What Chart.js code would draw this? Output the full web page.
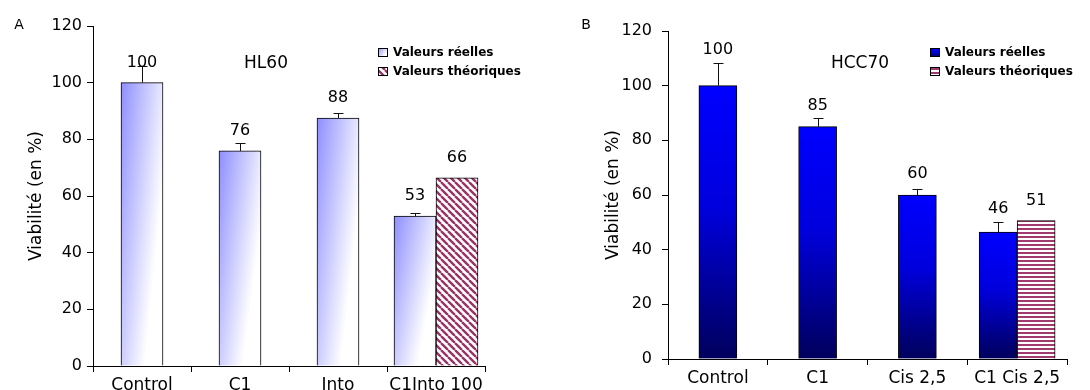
<!DOCTYPE html>
<html><head><meta charset="utf-8">
<script src="https://cdn.jsdelivr.net/npm/chart.js@4.4.1/dist/chart.umd.min.js"></script>
<style>
html,body{margin:0;padding:0;background:#fff;}
#wrap{position:relative;width:1090px;height:390px;overflow:hidden;background:#fff;}
canvas{position:absolute;top:0;}
#cA{left:0;} #cB{left:545px;}
</style></head><body>
<div id="wrap"><canvas id="cA" width="545" height="390"></canvas><canvas id="cB" width="545" height="390"></canvas></div>
<script>
// ---- data ----
const categoriesA = ['Control', 'C1', 'Into', 'C1Into 100'];
const reellesA = [100, 75.9, 87.5, 52.9];
const erreursA = [6, 2.8, 1.8, 1];
const theoriquesA = [null, null, null, 66.4];

const categoriesB = ['Control', 'C1', 'Cis 2,5', 'C1 Cis 2,5'];
const reellesB = [100, 85, 60, 46.4];
const erreursB = [8.3, 3, 2.3, 3.6];
const theoriquesB = [null, null, null, 50.6];

const yMin = 0, yMax = 120, yStep = 20;
const legendLabels = ['Valeurs réelles', 'Valeurs théoriques'];
const yTitle = 'Viabilité (en %)';

Chart.defaults.font.family = '"DejaVu Sans", sans-serif';
Chart.defaults.color = '#000';

// ---- fills ----
function fillGradA(ctx, x, y, w, h) {
  const a = 0.8 / w, b = 0.55 / Math.max(h, 1);
  const n = a * a + b * b;
  const g = ctx.createLinearGradient(x, y, x + a / n, y + b / n);
  g.addColorStop(0, '#8e8eff');
  g.addColorStop(1, '#ffffff');
  return g;
}
function fillGradB(ctx, x, y, w, h) {
  const g = ctx.createLinearGradient(0, y, 0, y + Math.max(h, 1));
  g.addColorStop(0, '#0000ff');
  g.addColorStop(0.45, '#0000dc');
  g.addColorStop(1, '#00005c');
  return g;
}
function diagPattern(target) {
  const s = 7, c = document.createElement('canvas');
  c.width = s; c.height = s;
  const g = c.getContext('2d');
  g.fillStyle = '#fff'; g.fillRect(0, 0, s, s);
  g.strokeStyle = '#993366'; g.lineWidth = 2.4;
  g.beginPath();
  for (let k = -1; k <= 1; k++) { g.moveTo(k * s, 0); g.lineTo(k * s + s, s); }
  g.stroke();
  return target.createPattern(c, 'repeat');
}
function hPattern(target) {
  const c = document.createElement('canvas');
  c.width = 4; c.height = 4;
  const g = c.getContext('2d');
  g.fillStyle = '#fff'; g.fillRect(0, 0, 4, 4);
  g.fillStyle = '#a03a6e'; g.fillRect(0, 0, 4, 2);
  return target.createPattern(c, 'repeat');
}

function makePanel(cfg) {
  const ctx0 = cfg.canvas.getContext('2d');
  const pat = cfg.pattern(ctx0);
  const fills = [cfg.realFill, () => pat];

  const plugin = {
    id: 'panel',
    beforeDatasetsDraw(chart) {
      const ctx = chart.ctx;
      chart.data.datasets.forEach((ds, di) => {
        const meta = chart.getDatasetMeta(di);
        meta.data.forEach((el, i) => {
          if (ds.data[i] == null) return;
          const p = el.getProps(['x', 'y', 'base', 'width'], true);
          try { el.options.backgroundColor = fills[di](ctx, p.x - p.width / 2, p.y, p.width, p.base - p.y); } catch (e) {}
        });
      });
    },
    afterDatasetsDraw(chart) {
      const ctx = chart.ctx, ys = chart.scales.y;
      const vals = chart.data.datasets[0].data;
      const meta = chart.getDatasetMeta(0);
      ctx.save();
      ctx.strokeStyle = '#111'; ctx.lineWidth = 1;
      meta.data.forEach((el, i) => {
        const e = cfg.errors[i];
        if (!e || vals[i] == null) return;
        const x = Math.round(el.x) + 0.5;
        const yt = Math.round(ys.getPixelForValue(vals[i] + e)) + 0.5;
        ctx.beginPath();
        ctx.moveTo(x, el.y); ctx.lineTo(x, yt);
        ctx.moveTo(x - 5, yt); ctx.lineTo(x + 5, yt);
        ctx.stroke();
      });
      ctx.font = '16px "DejaVu Sans"';
      ctx.fillStyle = '#000'; ctx.textAlign = 'center'; ctx.textBaseline = 'middle';
      chart.data.datasets.forEach((ds, di) => {
        const m = chart.getDatasetMeta(di);
        m.data.forEach((el, i) => {
          const v = ds.data[i];
          if (v == null) return;
          let y = el.y - 20;
          if (cfg.clearErrors && di === 0 && cfg.errors[i]) {
            y = Math.min(el.y - 21, ys.getPixelForValue(v + cfg.errors[i]) - 13);
          }
          ctx.fillText(String(Math.round(v)), el.x, y);
        });
      });
      ctx.restore();
    },
    afterDraw(chart) {
      const ctx = chart.ctx;
      ctx.save();
      ctx.fillStyle = '#000'; ctx.textBaseline = 'middle';
      ctx.textAlign = 'center';
      ctx.font = '14px "DejaVu Sans"';
      ctx.fillText(cfg.letter, cfg.letterX, 25);
      ctx.font = '17px "DejaVu Sans"';
      ctx.fillText(cfg.title, cfg.titleX, 64);
      // legend
      ctx.textAlign = 'left';
      ctx.font = 'bold 12px "DejaVu Sans"';
      chart.data.datasets.forEach((ds, k) => {
        const yc = [53, 72][k];
        const bx = cfg.legendX, by = yc - 5;
        ctx.fillStyle = fills[k](ctx, bx, by, 10, 9);
        ctx.fillRect(bx, by, 10, 9);
        ctx.strokeStyle = '#000'; ctx.lineWidth = 1;
        ctx.strokeRect(bx + 0.5, by + 0.5, 9, 8);
        ctx.fillStyle = '#000';
        ctx.fillText(ds.label, bx + 15, yc);
      });
      ctx.restore();
    }
  };

  return new Chart(cfg.canvas, {
    type: 'bar',
    data: {
      labels: cfg.categories,
      datasets: [
        { label: legendLabels[0], data: cfg.real, backgroundColor: () => cfg.realSolid,
          borderColor: '#000', borderWidth: 1 },
        { label: legendLabels[1], data: cfg.theo, backgroundColor: () => '#ffffff',
          borderColor: '#000', borderWidth: 1 }
      ]
    },
    options: {
      responsive: false,
      animation: false,
      devicePixelRatio: 1,
      events: [],
      barThickness: cfg.barW,
      skipNull: true,
      layout: { padding: { left: 0, right: cfg.padRight, top: cfg.padTop, bottom: 0 } },
      plugins: { legend: { display: false }, tooltip: { enabled: false } },
      scales: {
        x: {
          type: 'category',
          offset: true,
          grid: { offset: true, drawOnChartArea: false, drawTicks: true, tickLength: 6, color: '#000' },
          border: { display: true, color: '#000', width: 1 },
          ticks: { font: { size: 17 }, color: '#000', padding: 3, maxRotation: 0, autoSkip: false },
          afterFit: (s) => { s.height = cfg.xH; }
        },
        y: {
          min: yMin, max: yMax,
          grid: { drawOnChartArea: false, drawTicks: true, tickLength: 6, color: '#000' },
          border: { display: true, color: '#000', width: 1 },
          ticks: { stepSize: yStep, font: { size: 16 }, color: '#000', padding: cfg.yPad },
          title: { display: true, text: yTitle, font: { size: 17 }, color: '#000', padding: { top: cfg.titlePad, bottom: 0 } },
          afterFit: (s) => { s.width = cfg.yW; }
        }
      }
    },
    plugins: [plugin]
  });
}

makePanel({
  canvas: document.getElementById('cA'),
  categories: categoriesA, real: reellesA, theo: theoriquesA, errors: erreursA,
  realFill: fillGradA, realSolid: '#b8b8ff', pattern: diagPattern,
  barW: 42, padRight: 60, padTop: 26, xH: 24, yW: 93, yPad: 5, titlePad: 26,
  letter: 'A', letterX: 19, title: 'HL60', titleX: 266, legendX: 378, clearErrors: false
});
makePanel({
  canvas: document.getElementById('cB'),
  categories: categoriesB, real: reellesB, theo: theoriquesB, errors: erreursB,
  realFill: fillGradB, realSolid: '#0000cc', pattern: hPattern,
  barW: 38, padRight: 23, padTop: 31, xH: 31, yW: 123, yPad: 10, titlePad: 58,
  letter: 'B', letterX: 41, title: 'HCC70', titleX: 315, legendX: 385, clearErrors: true
});
</script>
</body></html>
